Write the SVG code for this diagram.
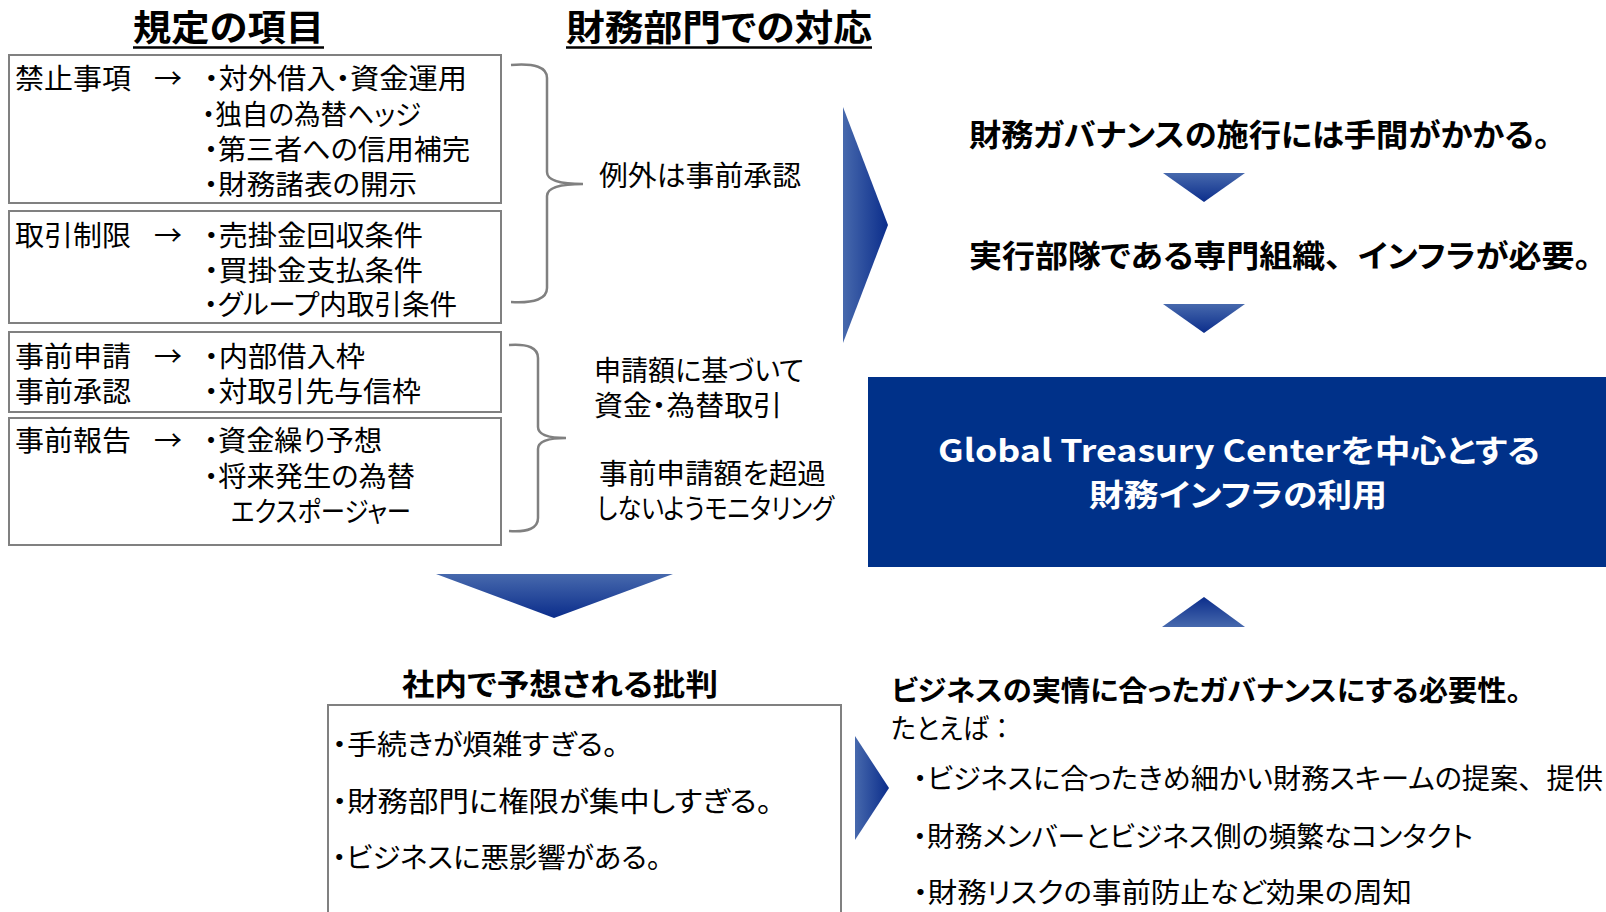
<svg xmlns="http://www.w3.org/2000/svg" width="1606" height="912" viewBox="0 0 1606 912">
<defs>
<style>
.t{font-family:"Noto Sans CJK JP","Noto Sans CJK SC",sans-serif;font-size:28px;fill:#000;font-feature-settings:"palt" 1}
.fw{font-feature-settings:normal}
.b{font-weight:bold}
.h{font-size:36px;font-weight:bold}
.w{fill:#fff;font-weight:bold;font-size:31px}
.box{fill:#fff;stroke:#808080;stroke-width:2}
.brace{fill:none;stroke:#808080;stroke-width:2.5}
.ul{stroke:#000;stroke-width:2.5}
</style>
<linearGradient id="gR" x1="0" y1="0" x2="1" y2="0"><stop offset="0" stop-color="#4769ad"/><stop offset="1" stop-color="#0b2d8b"/></linearGradient>
<linearGradient id="gD" x1="0" y1="0" x2="0" y2="1"><stop offset="0" stop-color="#4769ad"/><stop offset="1" stop-color="#0b2d8b"/></linearGradient>
<linearGradient id="gU" x1="0" y1="1" x2="0" y2="0"><stop offset="0" stop-color="#4769ad"/><stop offset="1" stop-color="#0b2d8b"/></linearGradient>
</defs>
<rect width="1606" height="912" fill="#fff"/>

<g id="title-rules">
<text class="t h" x="133" y="41" textLength="191" lengthAdjust="spacingAndGlyphs">規定の項目</text>
<line class="ul" x1="133" y1="47.5" x2="324" y2="47.5"/>
</g>
<g id="title-finance">
<text class="t h" x="566" y="41" textLength="306" lengthAdjust="spacingAndGlyphs">財務部門での対応</text>
<line class="ul" x1="566" y1="47.5" x2="872" y2="47.5"/>
</g>

<g id="box-prohibited">
<rect class="box" x="9" y="55" width="492" height="148"/>
<text class="t" x="15" y="89" textLength="116" lengthAdjust="spacingAndGlyphs">禁止事項</text>
<text class="t" x="154" y="89">→</text>
<text class="t" x="204" y="89" textLength="263" lengthAdjust="spacingAndGlyphs">・対外借入・資金運用</text>
<text class="t" x="202" y="125" textLength="219" lengthAdjust="spacingAndGlyphs">・独自の為替ヘッジ</text>
<text class="t" x="204" y="160" textLength="266" lengthAdjust="spacingAndGlyphs">・第三者への信用補完</text>
<text class="t" x="204" y="195" textLength="213" lengthAdjust="spacingAndGlyphs">・財務諸表の開示</text>
</g>

<g id="box-restriction">
<rect class="box" x="9" y="211" width="492" height="112"/>
<text class="t" x="15" y="246" textLength="116" lengthAdjust="spacingAndGlyphs">取引制限</text>
<text class="t" x="154" y="246">→</text>
<text class="t" x="204" y="246" textLength="219" lengthAdjust="spacingAndGlyphs">・売掛金回収条件</text>
<text class="t" x="204" y="281" textLength="219" lengthAdjust="spacingAndGlyphs">・買掛金支払条件</text>
<text class="t" x="204" y="315" textLength="253" lengthAdjust="spacingAndGlyphs">・グループ内取引条件</text>
</g>

<g id="box-application">
<rect class="box" x="9" y="332" width="492" height="80"/>
<text class="t" x="15" y="367" textLength="116" lengthAdjust="spacingAndGlyphs">事前申請</text>
<text class="t" x="154" y="367">→</text>
<text class="t" x="15" y="402" textLength="116" lengthAdjust="spacingAndGlyphs">事前承認</text>
<text class="t" x="204" y="367" textLength="161" lengthAdjust="spacingAndGlyphs">・内部借入枠</text>
<text class="t" x="204" y="402" textLength="217" lengthAdjust="spacingAndGlyphs">・対取引先与信枠</text>
</g>

<g id="box-report">
<rect class="box" x="9" y="418" width="492" height="127"/>
<text class="t" x="15" y="451" textLength="116" lengthAdjust="spacingAndGlyphs">事前報告</text>
<text class="t" x="154" y="451">→</text>
<text class="t" x="204" y="451" textLength="178" lengthAdjust="spacingAndGlyphs">・資金繰り予想</text>
<text class="t" x="204" y="487" textLength="211" lengthAdjust="spacingAndGlyphs">・将来発生の為替</text>
<text class="t" x="231" y="522" textLength="180" lengthAdjust="spacingAndGlyphs">エクスポージャー</text>
</g>

<g id="note-exception">
<text class="t" x="599" y="186" textLength="202" lengthAdjust="spacingAndGlyphs">例外は事前承認</text>
</g>
<g id="note-monitoring">
<text class="t" x="594" y="381" textLength="210" lengthAdjust="spacingAndGlyphs">申請額に基づいて</text>
<text class="t" x="594" y="416" textLength="188" lengthAdjust="spacingAndGlyphs">資金・為替取引</text>
<text class="t" x="599" y="484" textLength="227" lengthAdjust="spacingAndGlyphs">事前申請額を超過</text>
<text class="t" x="597" y="519" textLength="237" lengthAdjust="spacingAndGlyphs">しないようモニタリング</text>
</g>

<g id="step-effort">
<text class="t b" style="font-size:31px" x="969" y="146" textLength="581" lengthAdjust="spacingAndGlyphs">財務ガバナンスの施行には手間がかかる。</text>
</g>
<g id="step-organization">
<text class="t b" style="font-size:31px" x="969" y="267" textLength="622" lengthAdjust="spacingAndGlyphs">実行部隊である専門組織<tspan class="fw">、</tspan>インフラが必要。</text>
</g>

<g id="gtc">
<rect x="868" y="377" width="738" height="190" fill="#003189"/>
<text class="t w" x="938" y="462" textLength="602" lengthAdjust="spacingAndGlyphs">Global Treasury Centerを中心とする</text>
<text class="t w" x="1089" y="506" textLength="298" lengthAdjust="spacingAndGlyphs">財務インフラの利用</text>
</g>

<g id="criticism">
<text class="t b" style="font-size:30px" x="402" y="695" textLength="316" lengthAdjust="spacingAndGlyphs">社内で予想される批判</text>
<rect class="box" x="328" y="705" width="513" height="230"/>
<text class="t" x="332" y="755" textLength="286" lengthAdjust="spacingAndGlyphs">・手続きが煩雑すぎる。</text>
<text class="t" x="332" y="812" textLength="440" lengthAdjust="spacingAndGlyphs">・財務部門に権限が集中しすぎる。</text>
<text class="t" x="332" y="868" textLength="329" lengthAdjust="spacingAndGlyphs">・ビジネスに悪影響がある。</text>
</g>

<g id="business-fit">
<text class="t b" x="891" y="701" textLength="630" lengthAdjust="spacingAndGlyphs">ビジネスの実情に合ったガバナンスにする必要性。</text>
<text class="t" x="891" y="739" textLength="124" lengthAdjust="spacingAndGlyphs">たとえば<tspan class="fw">：</tspan></text>
<text class="t" x="913" y="789" textLength="690" lengthAdjust="spacingAndGlyphs">・ビジネスに合ったきめ細かい財務スキームの提案<tspan class="fw">、</tspan>提供</text>
<text class="t" x="913" y="847" textLength="560" lengthAdjust="spacingAndGlyphs">・財務メンバーとビジネス側の頻繁なコンタクト</text>
<text class="t" x="913" y="903" textLength="499" lengthAdjust="spacingAndGlyphs">・財務リスクの事前防止など効果の周知</text>
</g>

<g id="connectors">
<path class="brace" d="M511,65 Q547,62 547,78 L547,172 Q547,184 583,184 Q547,184 547,196 L547,288 Q547,304 511,302"/>
<path class="brace" d="M509,345 Q538,343 538,358 L538,427 Q538,438 566,438 Q538,438 538,449 L538,518 Q538,533 509,531"/>
<polygon points="843,107 888,225 843,343" fill="url(#gR)"/>
<polygon points="1163,173 1245,173 1204,202" fill="url(#gD)"/>
<polygon points="1163,304 1245,304 1204,333" fill="url(#gD)"/>
<polygon points="1162,627 1245,627 1204,597" fill="url(#gU)"/>
<polygon points="436,574 673,574 554,618" fill="url(#gD)"/>
<polygon points="855,736 889,788 855,840" fill="url(#gR)"/>
</g>
</svg>
